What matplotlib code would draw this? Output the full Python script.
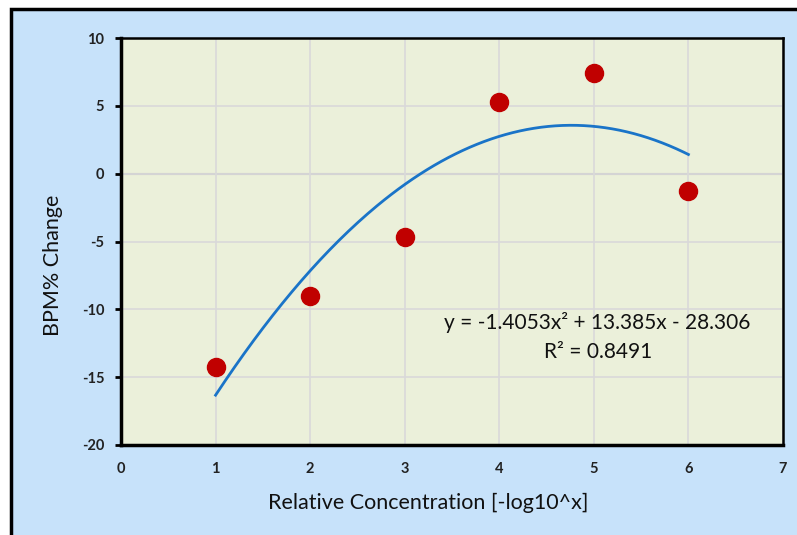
import matplotlib
matplotlib.use("Agg")
import matplotlib.pyplot as plt
from matplotlib.patches import Rectangle
import numpy as np

x_vals = [1, 2, 3, 4, 5, 6]
y_vals = [-14.25, -9.0, -4.7, 5.3, 7.4, -1.3]
fit_coef = [-1.4053, 13.385, -28.306]
r2 = 0.8491
x_ticks = [0, 1, 2, 3, 4, 5, 6, 7]
y_ticks = [-20, -15, -10, -5, 0, 5, 10]

W, H = 797, 535
plt.rcParams['font.family'] = ['Lato', 'DejaVu Sans']
plt.rcParams['axes.unicode_minus'] = False
fig = plt.figure(figsize=(W / 100, H / 100), dpi=100)
fig.patch.set_facecolor("white")

# outer chart area with border
fig.patches.append(Rectangle((11 / W, -0.05), 1.0, 1 - 9 / H + 0.05, transform=fig.transFigure,
                             facecolor="#c7e2fa", edgecolor="black", linewidth=2.5, zorder=-5))

ax = fig.add_axes([121 / W, 1 - 445 / H, (783 - 121) / W, (445 - 38) / H])
ax.set_zorder(2)
ax.set_facecolor("#ebf0da")
ax.set_xlim(0, 7)
ax.set_ylim(-20, 10)
ax.set_xticks(x_ticks)
ax.set_yticks(y_ticks)
ax.grid(True, color="#d9d9d9", linewidth=1.2, zorder=0)
ax.axhline(0, color="#bfbfbf", linewidth=1.5, zorder=1)
for s in ax.spines.values():
    s.set_color("black")
ax.spines["left"].set_linewidth(2.5)
ax.spines["bottom"].set_linewidth(2.5)
ax.spines["top"].set_linewidth(1.8)
ax.spines["right"].set_linewidth(1.8)
ax.tick_params(axis="y", direction="out", length=4, width=2, labelsize=10.5, pad=8)
ax.tick_params(axis="x", length=0, labelsize=10.5, pad=12)
for lab in ax.get_xticklabels() + ax.get_yticklabels():
    lab.set_fontweight("bold")
    lab.set_color("#222222")

xf = np.linspace(min(x_vals), max(x_vals), 200)
yf = np.polyval(fit_coef, xf)
ax.plot(xf, yf, color="#1a74c8", linewidth=2, zorder=3)
ax.plot(x_vals, y_vals, "o", color="#c00000", markersize=13, zorder=4)

ax.text(0.72, 0.3, "y = -1.4053x² + 13.385x - 28.306", transform=ax.transAxes,
        ha="center", va="center", fontsize=15, color="#111111")
ax.text(0.72, 0.228, f"R² = {r2}", transform=ax.transAxes,
        ha="center", va="center", fontsize=15, color="#111111")

fig.text(428 / W, 1 - 503 / H, "Relative Concentration [-log10^x]", ha="center", va="center",
         fontsize=15.5, color="#111111")
fig.text(53 / W, 1 - 265 / H, "BPM% Change", ha="center", va="center", rotation=90,
         fontsize=15.5, color="#111111")

fig.savefig("out.png", dpi=100, facecolor=fig.get_facecolor())
